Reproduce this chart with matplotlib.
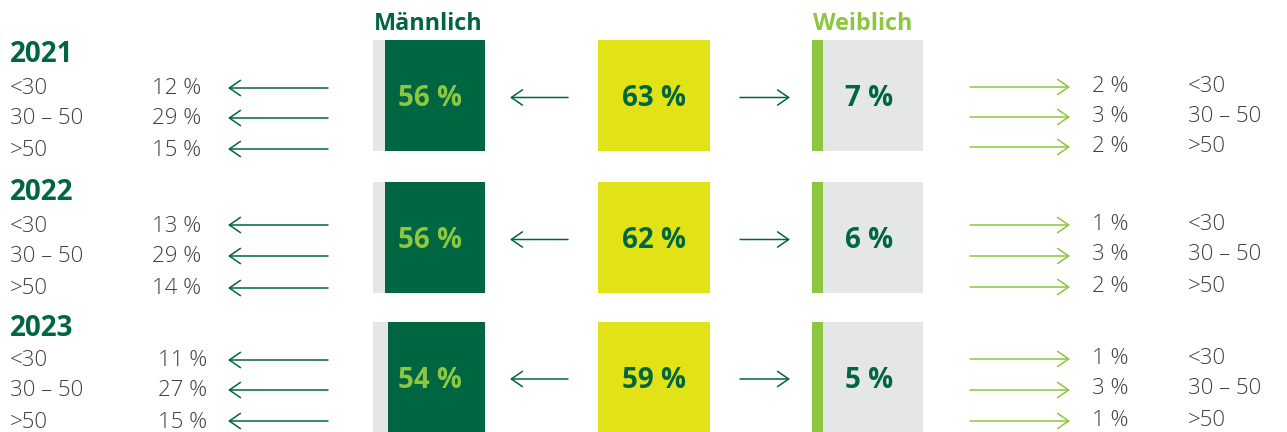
import matplotlib
matplotlib.use("Agg")
import matplotlib.pyplot as plt

# ---------------- data ----------------
years = ["2021", "2022", "2023"]
total_share = [63, 62, 59]
male_share = [56, 56, 54]
female_share = [7, 6, 5]
age_groups = ["<30", "30 – 50", ">50"]
male_by_age = [[12, 29, 15], [13, 29, 14], [11, 27, 15]]
female_by_age = [[2, 3, 2], [1, 3, 2], [1, 3, 1]]
title_male = "Männlich"
title_female = "Weiblich"

# ---------------- style ----------------
DARK = "#006641"
LIGHT = "#8DC63F"
YELLOW = "#E1E317"
GREY = "#E5E6E8"
TXT = "#3f3f3f"
FONT = "Open Sans"
SMALL = 16

W, H = 1287, 432
fig = plt.figure(figsize=(W / 100, H / 100), dpi=100)
ax = fig.add_axes([0, 0, 1, 1])
ax.set_xlim(0, W)
ax.set_ylim(H, 0)
ax.axis("off")

# layout (pixels)
box_top = [40, 182, 322]
box_h = [111, 111, 110]
row_y_left = [[89, 119, 150], [226, 257, 289], [361, 391, 422]]
row_y_right = [[86, 116, 146], [224, 255, 286], [358, 389, 420]]
year_y = [55, 193, 329]
male_box = (373, 485)
yellow_box = (598, 710)
fem_box = (812, 923)
fem_strip = 11
px_per_pt = (male_box[1] - male_box[0]) / 62.5


def arrow(x_from, x_to, y, color):
    ax.annotate("", xy=(x_to, y), xytext=(x_from, y),
                arrowprops=dict(arrowstyle="->,head_length=0.8,head_width=0.55",
                                color=color, lw=1.1, shrinkA=0, shrinkB=0))


ax.text((male_box[0] + male_box[1]) / 2 - 1, 24, title_male, ha="center", va="center",
        fontsize=16.8, fontweight="bold", color=DARK, family=FONT)
ax.text((fem_box[0] + fem_box[1]) / 2 - 5, 24, title_female, ha="center", va="center",
        fontsize=16.8, fontweight="bold", color=LIGHT, family=FONT)

for i, yr in enumerate(years):
    top = box_top[i]
    h = box_h[i]
    cy = top + h / 2

    # male box: grey background + dark green part sized by share
    ax.barh(cy, male_box[1] - male_box[0], left=male_box[0], height=h, color=GREY)
    mw = male_share[i] * px_per_pt
    ax.barh(cy, mw, left=male_box[1] - mw, height=h, color=DARK)
    ax.text(male_box[0] + 57, cy + 3, f"{male_share[i]} %", ha="center", va="center",
            fontsize=20, fontweight="bold", color=LIGHT, family=FONT)

    # total box
    ax.barh(cy, yellow_box[1] - yellow_box[0], left=yellow_box[0], height=h, color=YELLOW)
    ax.text((yellow_box[0] + yellow_box[1]) / 2, cy + 3, f"{total_share[i]} %", ha="center",
            va="center", fontsize=20, fontweight="bold", color=DARK, family=FONT)

    # female box
    ax.barh(cy, fem_box[1] - fem_box[0], left=fem_box[0], height=h, color=GREY)
    ax.barh(cy, fem_strip, left=fem_box[0], height=h, color=LIGHT)
    ax.text(fem_box[0] + 57, cy + 3, f"{female_share[i]} %", ha="center", va="center",
            fontsize=20, fontweight="bold", color=DARK, family=FONT)

    # middle arrows
    arrow(568, 510, cy + 2, DARK)
    arrow(740, 790, cy + 2, DARK)

    # year heading
    ax.text(10, year_y[i], yr, ha="left", va="center", fontsize=20, fontweight="bold",
            color=DARK, family=FONT)

    for j, grp in enumerate(age_groups):
        yl = row_y_left[i][j]
        yrr = row_y_right[i][j]
        ax.text(10, yl, grp, ha="left", va="center", fontsize=SMALL, fontweight="light",
                color=TXT, family=FONT)
        ax.text(201 if i < 2 else 207, yl, f"{male_by_age[i][j]} %", ha="right", va="center",
                fontsize=SMALL, fontweight="light", color=TXT, family=FONT)
        arrow(328, 228, yl - 1, DARK)

        arrow(970, 1070, yrr + 1, LIGHT)
        ax.text(1092, yrr, f"{female_by_age[i][j]} %", ha="left", va="center",
                fontsize=SMALL, fontweight="light", color=TXT, family=FONT)
        ax.text(1188, yrr, grp, ha="left", va="center", fontsize=SMALL, fontweight="light",
                color=TXT, family=FONT)

fig.savefig("out.png", dpi=100)
